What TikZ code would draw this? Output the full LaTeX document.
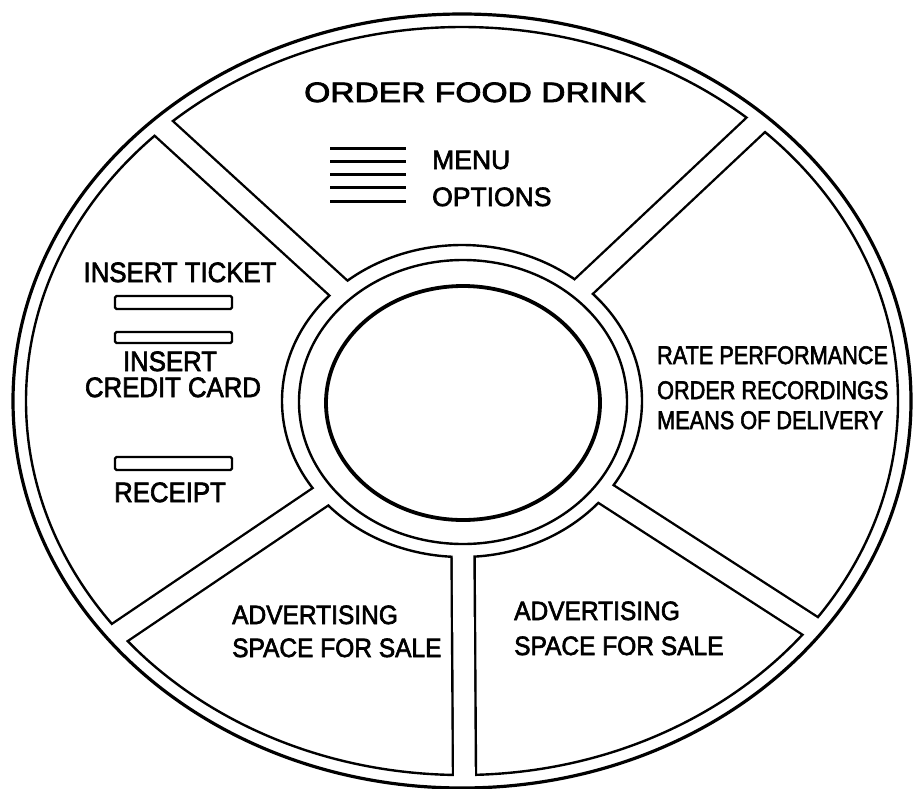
\documentclass[tikz,border=0pt]{standalone}
\usepackage{fontspec}
\setmainfont{Liberation Sans}
\newfontfamily\scanfont[FakeBold=2.5]{Liberation Sans}

\begin{document}
\begin{tikzpicture}[x=1pt, y=-1pt,
  rim/.style={line width=3.2pt},
  seg/.style={line width=2.4pt},
  slot/.style={line width=2.2pt, rounded corners=1.5pt},
  bar/.style={line width=3pt},
  ttltxt/.style={inner sep=0, anchor=base, font=\scanfont\fontsize{28}{30}\selectfont, xscale=1.2},
  menutxt/.style={inner sep=0, anchor=base west, font=\scanfont\fontsize{26.5}{30}\selectfont},
  paytxt/.style={inner sep=0, anchor=base, font=\scanfont\fontsize{28}{30}\selectfont, xscale=0.92},
  ratetxt/.style={inner sep=0, anchor=base west, font=\scanfont\fontsize{25.5}{30}\selectfont, xscale=0.85},
  adtxt/.style={inner sep=0, anchor=base west, font=\scanfont\fontsize{26.5}{30}\selectfont, xscale=0.925},
]
  \useasboundingbox (0,0) rectangle (913,788);
  \coordinate (c) at (462,401);
  % --- spoke ends ---
  \coordinate (s1) at (78,50);
  \coordinate (s2) at (846,40);
  \coordinate (s3) at (911,691);
  \coordinate (s4) at (465,850);
  \coordinate (s5) at (20,700);
  % --- spokes, black edges ---
  \begin{scope}
    \clip (c) ellipse [x radius=436, y radius=374];
    \foreach \s in {s1,s2,s3,s4,s5}
      \draw[line width=25.4pt] (c) -- (\s);
  \end{scope}
  \fill[white] (c) ellipse [x radius=180, y radius=156];
  % --- segments ---
  \draw[seg] (c) ellipse [x radius=436, y radius=374];
  \draw[seg] (c) ellipse [x radius=180, y radius=156];
  \foreach \s in {s1,s2,s3,s4,s5}
    \draw[white, line width=20.6pt] (c) -- (\s);
  % --- rims ---
  \draw[rim] (c) ellipse [x radius=449, y radius=387];
  \draw[seg] (463,402) ellipse [x radius=164, y radius=142];
  \draw[line width=3.8pt] (463,403) ellipse [x radius=137, y radius=117];
  % --- top ---
  \node[ttltxt] (title) at (475,102) {ORDER FOOD DRINK};
  \foreach \y in {148,161,174,187,201}
    \draw[bar] (330,\y) -- (406,\y);
  \node[menutxt] (menu) at (432,169) {MENU};
  \node[menutxt] (opts) at (432,206) {OPTIONS};
  % --- left ---
  \node[paytxt] (ticket) at (180,282) {INSERT TICKET};
  \draw[slot] (115,296) rectangle (232,309);
  \draw[slot] (115,332) rectangle (232,343);
  \node[paytxt] (insert) at (170,371) {INSERT};
  \node[paytxt] (card) at (173,397) {CREDIT CARD};
  \draw[slot] (115,457) rectangle (232,470);
  \node[paytxt] (receipt) at (170,502) {RECEIPT};
  % --- right ---
  \node[ratetxt] (rate) at (657,364) {RATE PERFORMANCE};
  \node[ratetxt] (recs) at (657,399) {ORDER RECORDINGS};
  \node[ratetxt] (deliv) at (657,429) {MEANS OF DELIVERY};
  % --- bottom ---
  \node[adtxt] (adl) at (232,624) {ADVERTISING};
  \node[adtxt] (salel) at (232,657) {SPACE FOR SALE};
  \node[adtxt] (adr) at (514,620) {ADVERTISING};
  \node[adtxt] (saler) at (514,655) {SPACE FOR SALE};
\end{tikzpicture}
\end{document}
